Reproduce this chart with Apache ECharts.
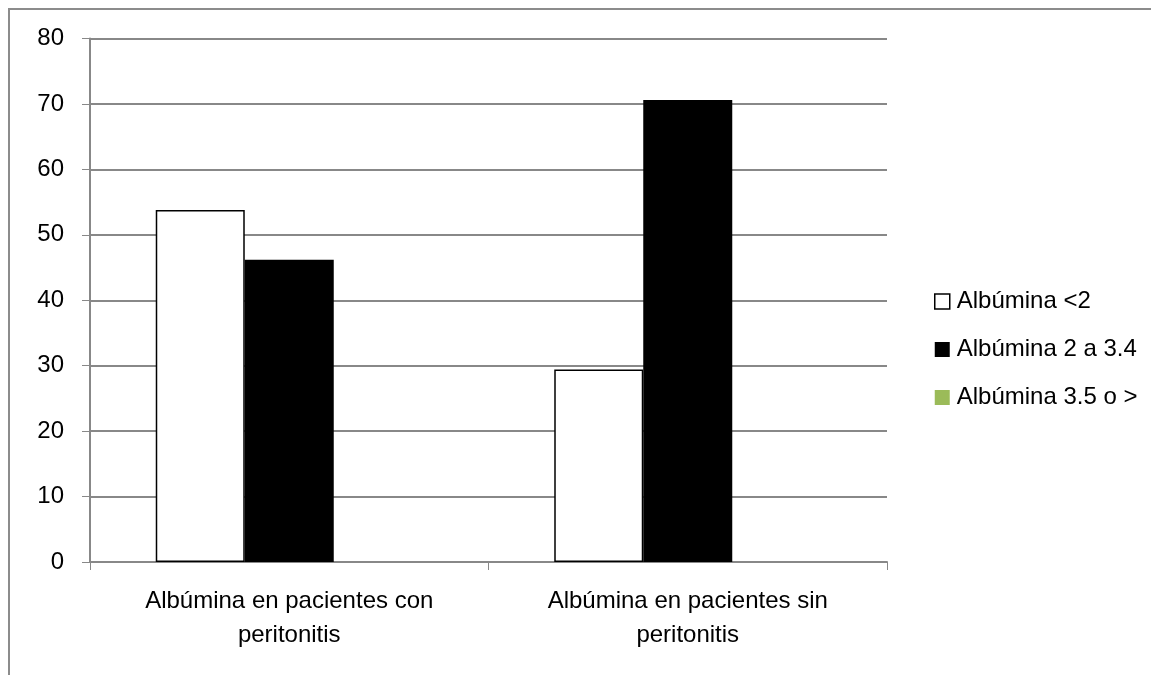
<!DOCTYPE html>
<html>
<head>
<meta charset="utf-8">
<script src="https://cdn.jsdelivr.net/npm/echarts@6/dist/echarts.min.js"></script>
<style>
  html, body { margin: 0; padding: 0; background: #fff; }
  #chart { width: 1151px; height: 675px; }
</style>
</head>
<body>
<div id="chart"></div>
<script>
// Categories and values (% of patients per albumin range)
const categories = ['Albúmina en pacientes con\nperitonitis', 'Albúmina en pacientes sin\nperitonitis'];
const seriesNames = ['Albúmina <2', 'Albúmina 2 a 3.4', 'Albúmina 3.5 o >'];
const albLow = [53.8, 29.4];
const albMid = [46.2, 70.6];
const albHigh = [0, 0];
const yTicks = [0, 10, 20, 30, 40, 50, 60, 70, 80];

const FONT = 'Liberation Sans';
const chart = echarts.init(document.getElementById('chart'), null, { renderer: 'canvas' });

const barBase = { type: 'bar', barWidth: 89, barGap: '0%' };

chart.setOption({
  backgroundColor: '#fff',
  animation: false,
  textStyle: { fontFamily: FONT },
  graphic: [{
    type: 'rect',
    shape: { x: 9, y: 9, width: 1200, height: 700 },
    style: { fill: 'none', stroke: '#8c8c8c', lineWidth: 2 },
    silent: true
  }],
  grid: { left: 90, right: 264, top: 38.5, bottom: 113, containLabel: false },
  legend: {
    orient: 'vertical',
    left: 929,
    top: 284.5,
    itemWidth: 15,
    itemHeight: 15,
    itemGap: 24,
    icon: 'rect',
    textStyle: { fontFamily: FONT, fontSize: 24, lineHeight: 24, color: '#000', padding: [0, 0, 0, 2] },
    data: [
      { name: seriesNames[0], itemStyle: { color: '#fff', borderColor: '#000', borderWidth: 1.5 } },
      { name: seriesNames[1], itemStyle: { color: '#000' } },
      { name: seriesNames[2], itemStyle: { color: '#9bbb59' } }
    ]
  },
  xAxis: {
    type: 'category',
    data: categories,
    axisLine: { lineStyle: { color: '#888', width: 2 } },
    axisTick: { show: true, length: 8, lineStyle: { color: '#888', width: 1 } },
    axisLabel: { color: '#000', fontSize: 24, fontFamily: FONT, margin: 22, lineHeight: 34 }
  },
  yAxis: {
    type: 'value',
    min: yTicks[0],
    max: yTicks[yTicks.length - 1],
    interval: 10,
    axisLine: { show: true, lineStyle: { color: '#888', width: 2 } },
    axisTick: { show: true, length: 8, lineStyle: { color: '#888', width: 1 } },
    splitLine: { lineStyle: { color: '#888', width: 2 } },
    axisLabel: { color: '#000', fontSize: 24, fontFamily: FONT, margin: 26 }
  },
  series: [
    Object.assign({}, barBase, {
      name: seriesNames[0], data: albLow,
      itemStyle: { color: '#fff', borderColor: '#000', borderWidth: 1.5 }
    }),
    Object.assign({}, barBase, {
      name: seriesNames[1], data: albMid,
      itemStyle: { color: '#000' }
    }),
    Object.assign({}, barBase, {
      name: seriesNames[2], data: albHigh,
      itemStyle: { color: '#9bbb59' }
    })
  ]
});
</script>
</body>
</html>
